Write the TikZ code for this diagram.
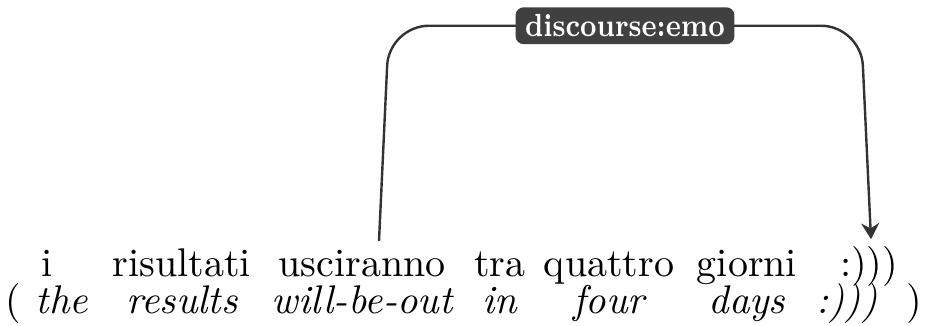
\documentclass[tikz,border=0pt]{standalone}
\usetikzlibrary{arrows.meta,positioning,calc}

\begin{document}
\begin{tikzpicture}[
  word/.style={anchor=base, inner sep=2pt},
  gloss/.style={anchor=base, inner sep=2pt, font=\itshape},
  deplabel/.style={fill=black!75, text=white, rounded corners=2pt,
                   inner xsep=2.4pt, inner ysep=1.8pt, font=\footnotesize\bfseries},
  dep/.style={-{Stealth[length=4pt,width=4.5pt]}, line width=0.6pt,
              draw=black!80, rounded corners=10pt}
]
\useasboundingbox (0,0) rectangle (232.5pt,81.25pt);

% sentence
\node[word] (i)    at (11.75pt,12.25pt)  {i};
\node[word] (ris)  at (45.5pt,12.25pt)   {risultati};
\node[word] (usc)  at (90.5pt,12.25pt)   {usciranno};
\node[word] (tra)  at (125pt,12.25pt)    {tra};
\node[word] (qua)  at (152.25pt,12.25pt) {quattro};
\node[word] (gio)  at (186.75pt,12.25pt) {giorni};
\node[word] (smile) at (217.25pt,12.25pt) {:)))};

% glosses
\node[gloss, below=9.25pt of i.base, anchor=base]   (the)  {{\upshape(}\ the};
\node[gloss, below=9.25pt of ris.base, anchor=base] (res)  {results};
\node[gloss, below=9.25pt of usc.base, anchor=base] (wbo)  {will-be-out};
\node[gloss, below=9.25pt of tra.base, anchor=base] (in)   {in};
\node[gloss, below=9.25pt of qua.base, anchor=base] (four) {four};
\node[gloss, below=9.25pt of gio.base, anchor=base] (days) {days};
\node[gloss, below=9.25pt of smile.base, anchor=base] (smilegl) {:)))\ \ {\upshape)}};

% dependency
\draw[dep] ([xshift=4.25pt]usc.north) -- ++(2.5pt,53.8pt)
  -- ++(118pt,0) node[midway, deplabel] (lab) {\scalebox{0.84}[1]{discourse:emo}}
  -- ([xshift=0.5pt,yshift=-0.5pt]smile.north);
\end{tikzpicture}
\end{document}
